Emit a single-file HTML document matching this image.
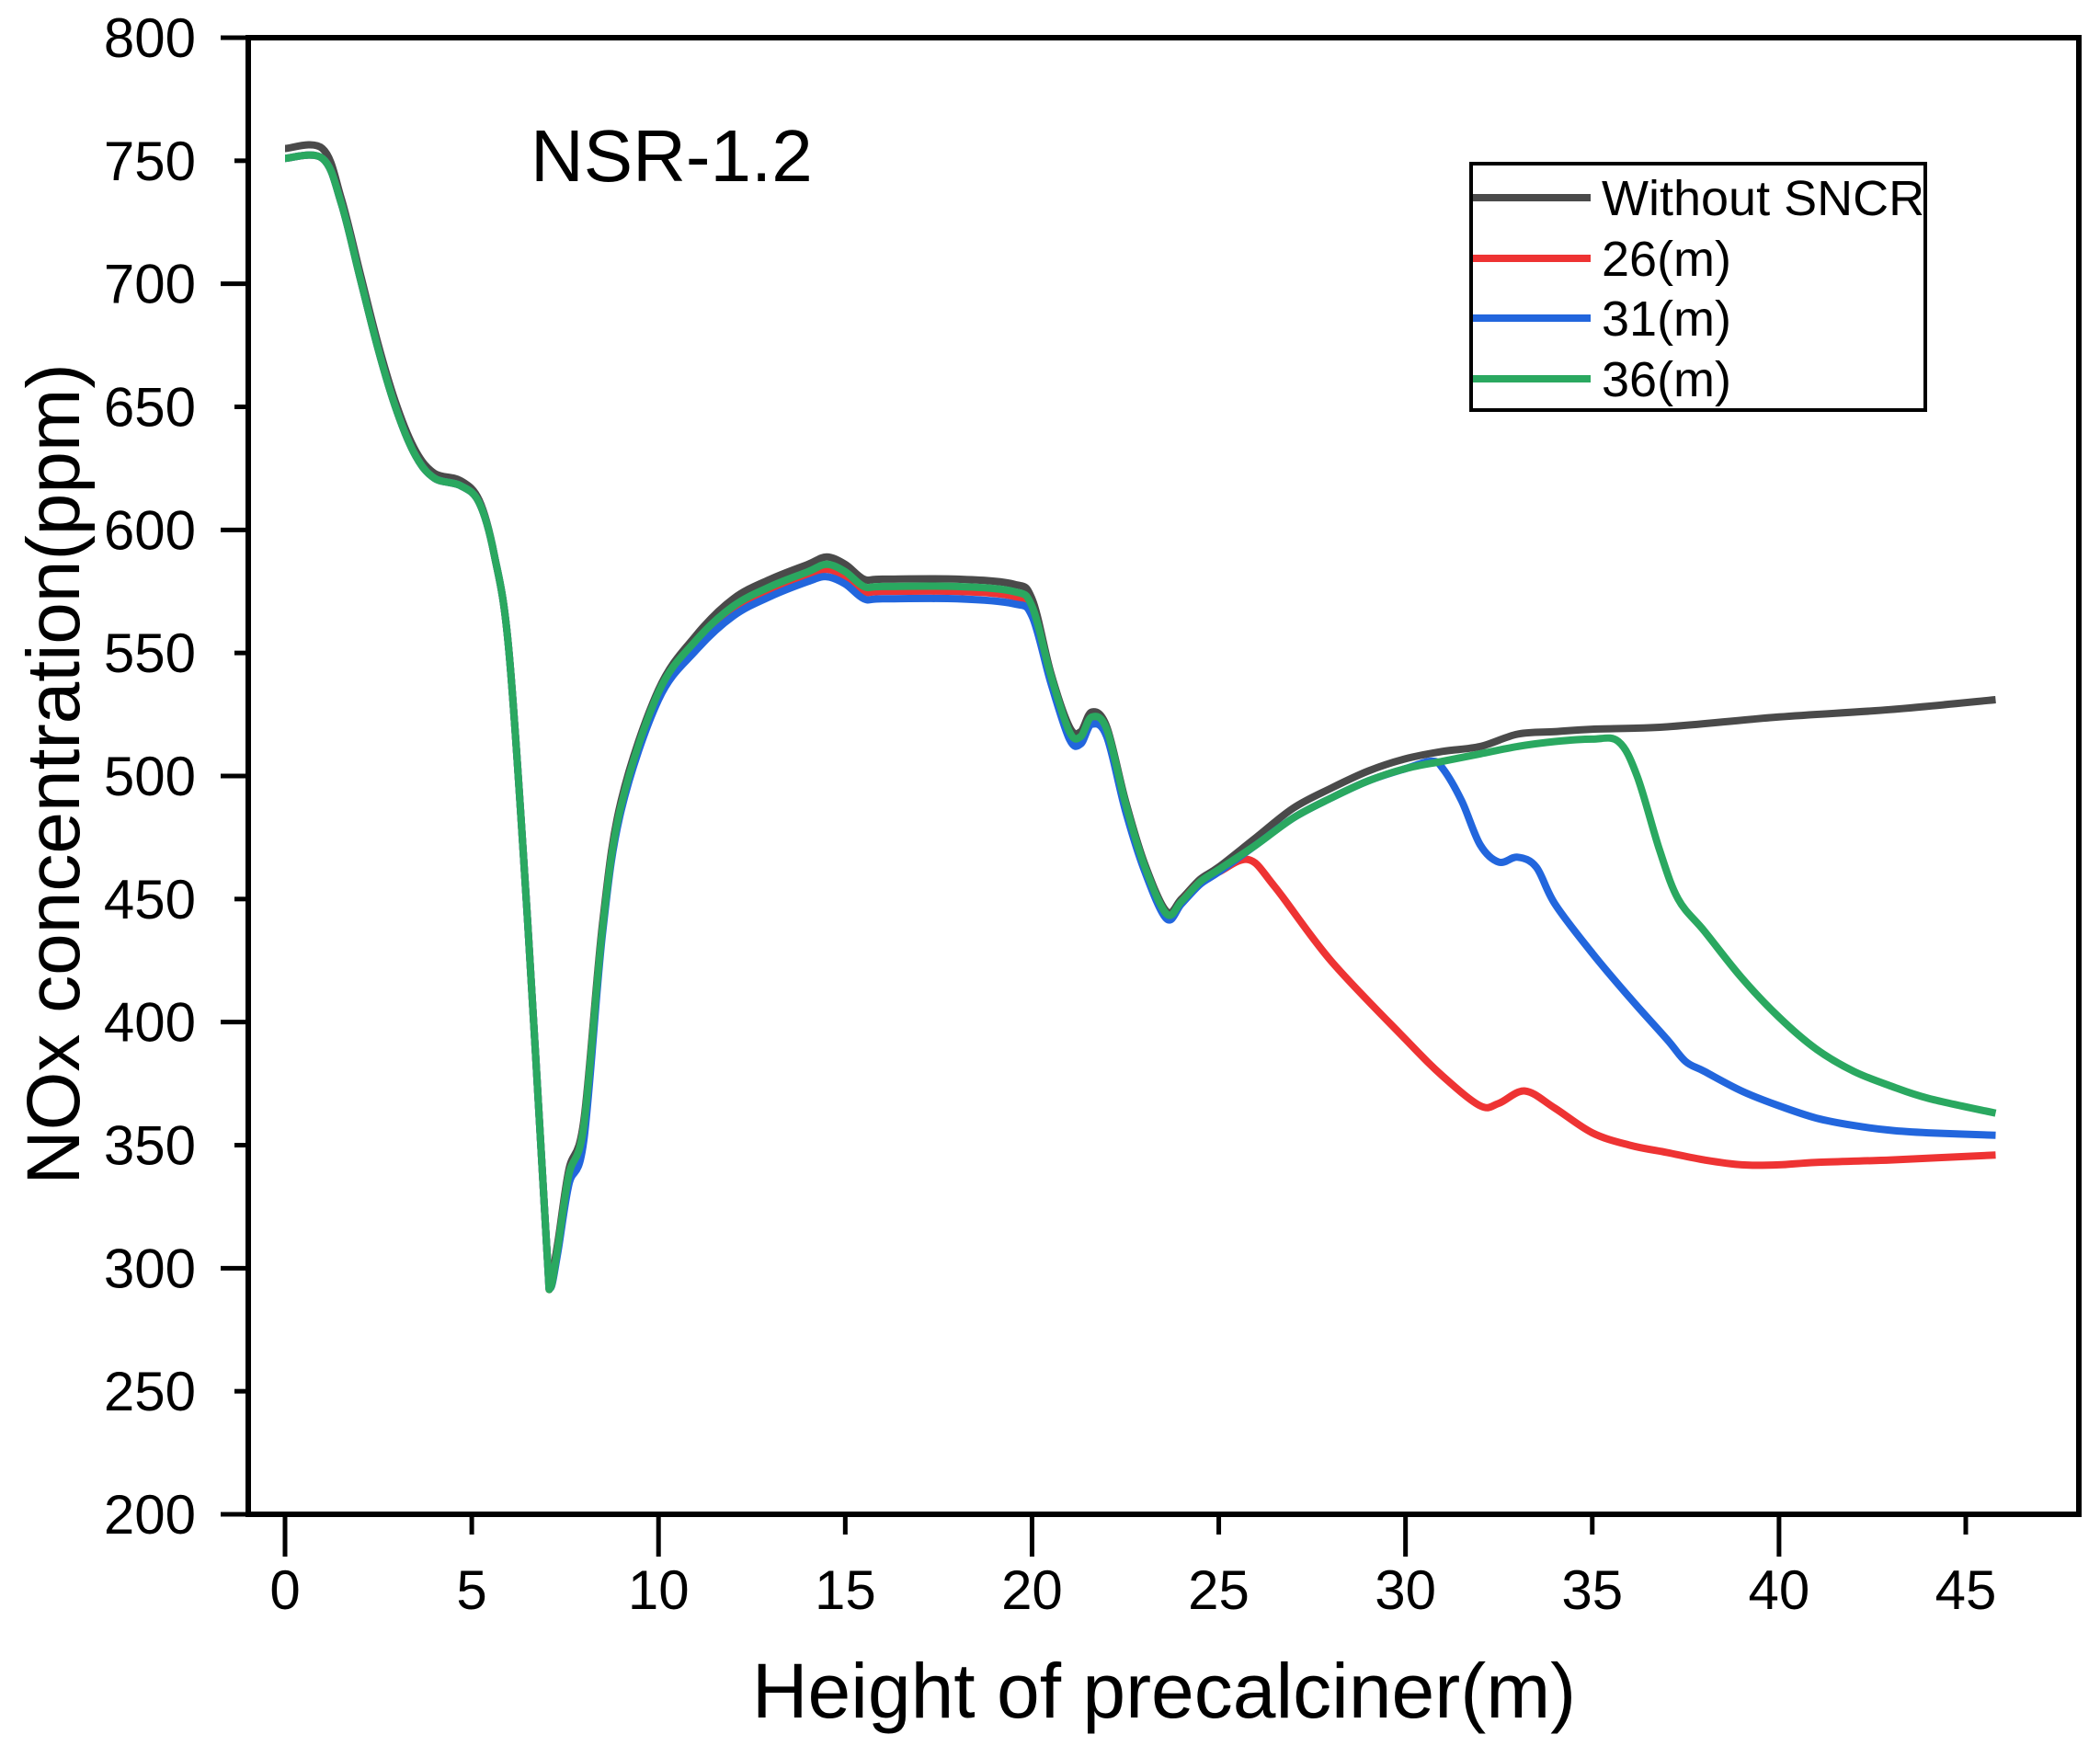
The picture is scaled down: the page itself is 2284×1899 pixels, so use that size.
<!DOCTYPE html>
<html><head><meta charset="utf-8"><style>
html,body{margin:0;padding:0;background:#fff;}
svg{display:block;font-family:"Liberation Sans",Arial,sans-serif;}
</style></head><body>
<svg id="chart" width="2284" height="1899" viewBox="0 0 2284 1899">
<g id="plot"></g>
</svg>
<script>
const xTicks=[0,5,10,15,20,25,30,35,40,45];
const yTicks=[200,250,300,350,400,450,500,550,600,650,700,750,800];
const seriesNames=["Without SNCR","26(m)","31(m)","36(m)"];
const seriesColors=["#4a4a4a","#ee3333","#2266dd","#2aa860"];
const blackX=[0,1,1.5,2,2.5,3,3.5,4,4.7,5.2,5.6,6,6.5,7,7.1,7.3,7.6,8,8.5,9,10,11,12,13,14,14.5,15,15.5,16,18,19.5,20,20.5,21,21.3,21.6,22,22.5,23,23.6,24,24.5,25,26,27,28,29,30,31,32,33,34,35,37,40,43,45.8];
const blackY=[755,755,735,705,675,650,632,623,620,612,590,550,440,310,295,310,340,360,440,490,535,557,572,580,586,589,586,580,580,580,578,572,542,520,518,526,520,490,465,445,450,458,463,475,487,495,502,507,510,512,517,518,519,520,524,527,531];
const redX=[0,1,1.5,2,2.5,3,3.5,4,4.7,5.2,5.6,6,6.5,7,7.1,7.3,7.6,8,8.5,9,10,11,12,13,14,14.5,15,15.5,16,18,19.5,20,20.5,21,21.3,21.6,22,22.5,23,23.6,24,24.5,25,25.8,26.5,28,30,31,32,32.5,33.2,34,35,36,37,38,39,40,41,43,45.8];
const redY=[751,751,733,703,673,648,630,621,618,611,590,550,440,310,292,308,338,358,438,488,533,553,567,575,581,584,581,575,575,575,573,567,540,517,515,523,518,488,463,443,449,457,461,466,455,425,393,378,366,367,372,365,355,350,347,344,342,342,343,344,346];
const blueX=[0,1,1.5,2,2.5,3,3.5,4,4.7,5.2,5.6,6,6.5,7,7.1,7.3,7.6,8,8.5,9,10,11,12,13,14,14.5,15,15.5,16,18,19.5,20,20.5,21,21.3,21.6,22,22.5,23,23.6,24,24.5,25,26,27,28,29,30,30.7,31,31.5,32,32.5,33,33.5,34,35,36,37,37.5,38,39,40,41,42,43,44,45.8];
const blueY=[751,751,733,703,673,648,630,621,618,611,590,550,440,310,292,306,334,352,436,486,531,551,565,573,579,581,578,572,572,572,570,565,538,515,513,521,516,486,462,442,448,456,461,472,483,491,498,503,506,503,490,472,465,467,463,448,428,410,393,384,380,372,366,361,358,356,355,354];
const greenX=[0,1,1.5,2,2.5,3,3.5,4,4.7,5.2,5.6,6,6.5,7,7.1,7.3,7.6,8,8.5,9,10,11,12,13,14,14.5,15,15.5,16,18,19.5,20,20.5,21,21.3,21.6,22,22.5,23,23.6,24,24.5,25,26,27,28,29,30,31,32,33,34,35,35.7,36.2,36.8,37.3,38,39,40,41,42,43,44,45.8];
const greenY=[751,751,733,703,673,648,630,621,618,611,590,550,440,310,292,308,338,358,438,488,534,555,569,577,583,586,583,577,577,577,575,569,541,518,516,524,519,489,464,444,449,457,462,472,483,491,498,503,506,509,512,514,515,514,500,470,450,437,418,402,389,380,374,369,363];

const L=270,R=2261,T=41,B=1647;
const X0=310,XK=(2138-310)/45;
function sx(v){return X0+v*XK;}
function sy(v){return B-(v-200)*(B-T)/600;}
const NS="http://www.w3.org/2000/svg";
const svg=document.getElementById('chart');
function mk(tag,attrs,parent){const e=document.createElementNS(NS,tag);for(const k in attrs)e.setAttribute(k,attrs[k]);(parent||svg).appendChild(e);return e;}

let frame=mk('rect',{x:L,y:T,width:R-L,height:B-T,fill:'none',stroke:'#000','stroke-width':6});



yTicks.forEach((v,i)=>{
  const y=sy(v);
  const len=(v%100===0)?30:15;
  const t=mk('line',{x1:L-len,y1:y,x2:L,y2:y,stroke:'#000','stroke-width':5});
  
  
  const lb=mk('text',{x:213,y:y+21,'text-anchor':'end','font-size':60,fill:'#000'});
  lb.textContent=v;
  
  
});
xTicks.forEach((v,i)=>{
  const x=sx(v);
  const len=(v%10===0)?46:22;
  const t=mk('line',{x1:x,y1:B,x2:x,y2:B+len,stroke:'#000','stroke-width':5});
  
  
  const lb=mk('text',{x:x,y:1750,'text-anchor':'middle','font-size':60,fill:'#000'});
  lb.textContent=v;
  
  
});

function smoothPath(xs,ys){
  const p=xs.map((x,i)=>[sx(x),sy(ys[i])]);
  let d='M'+p[0][0].toFixed(1)+','+p[0][1].toFixed(1);
  for(let i=0;i<p.length-1;i++){
    const p0=p[Math.max(0,i-1)],p1=p[i],p2=p[i+1],p3=p[Math.min(p.length-1,i+2)];
    const c1x=p1[0]+(p2[0]-p0[0])/6,c1y=p1[1]+(p2[1]-p0[1])/6;
    const c2x=p2[0]-(p3[0]-p1[0])/6,c2y=p2[1]-(p3[1]-p1[1])/6;
    d+=' C'+c1x.toFixed(1)+','+c1y.toFixed(1)+' '+c2x.toFixed(1)+','+c2y.toFixed(1)+' '+p2[0].toFixed(1)+','+p2[1].toFixed(1);
  }
  return d;
}
const allX=[blackX,redX,blueX,greenX],allY=[blackY,redY,blueY,greenY];
const names=['series-without-sncr','series-26m','series-31m','series-36m'];
allX.forEach((xs,i)=>{
  const pth=mk('path',{d:smoothPath(xs,allY[i]),fill:'none',stroke:seriesColors[i],'stroke-width':8,'stroke-linejoin':'round','stroke-linecap':'butt'});
  
  
});

const lg=mk('rect',{x:1600,y:178,width:494,height:268,fill:'#fff',stroke:'#000','stroke-width':4});


const rowsY=[215,281,346,412];
seriesNames.forEach((n,i)=>{
  const ln=mk('line',{x1:1602,y1:rowsY[i],x2:1730,y2:rowsY[i],stroke:seriesColors[i],'stroke-width':8});
  
  
  const tx=mk('text',{x:1742,y:rowsY[i]+19,'font-size':54,fill:'#000'});
  tx.textContent=n;
  
  
});

const ann=mk('text',{x:577,y:197,'font-size':80,fill:'#000'});
ann.textContent='NSR-1.2';


const xt=mk('text',{x:1266,y:1868,'text-anchor':'middle','font-size':84,fill:'#000'});
xt.textContent='Height of precalciner(m)';


const yt=mk('text',{x:0,y:0,'text-anchor':'middle','font-size':82,fill:'#000',transform:'translate(86,842) rotate(-90)'});
yt.textContent='NOx concentration(ppm)';


</script>
</body></html>
